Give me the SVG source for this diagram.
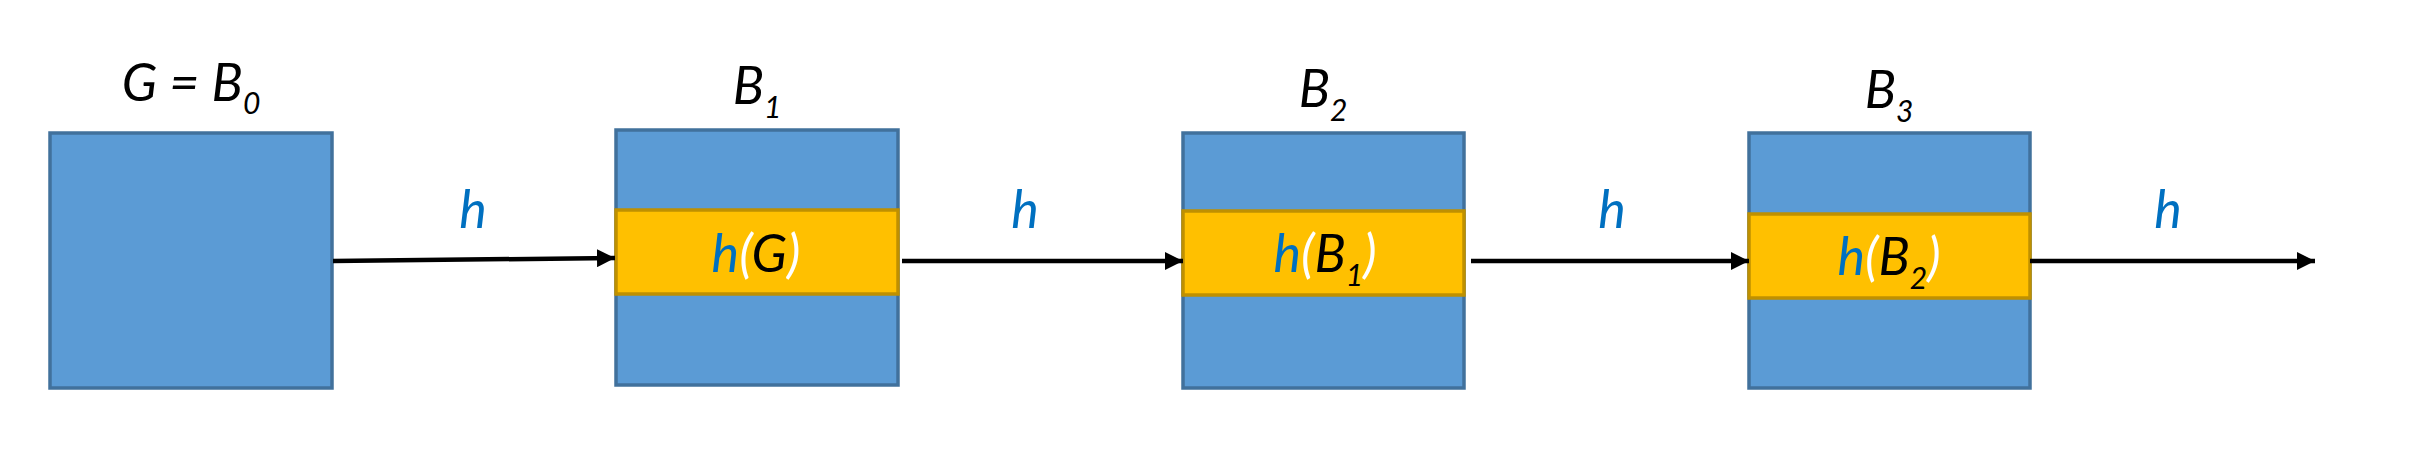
<svg xmlns="http://www.w3.org/2000/svg" width="2413" height="475" viewBox="0 0 2413 475">
<style>
.box{fill:#5B9BD5;stroke:#41719C;stroke-width:3.5}
.band{fill:#FFC000;stroke:#BF9000;stroke-width:3.5}
.t{font-family:Lato,"Noto Sans",sans-serif;font-style:italic;font-size:52px;fill:#000}
.blue{fill:#0070C0}
.white{fill:#FFFFFF}
.sub{font-size:30px}
.conn{stroke:#000;stroke-width:4.5;fill:none;marker-end:url(#ah)}
</style>
<defs>
<marker id="ah" viewBox="0 0 6 6" refX="6" refY="3" markerWidth="4" markerHeight="4" markerUnits="strokeWidth" orient="auto">
<path d="M0,0 L6,3 L0,6 z" fill="#000"/>
</marker>
</defs>
<rect width="2413" height="475" fill="#fff"/>
<g id="B0">
<rect class="box" x="50" y="133" width="282" height="255"/>
<text class="t" x="191" y="101" text-anchor="middle">G = B<tspan class="sub" dy="13">0</tspan></text>
</g>
<g id="B1">
<rect class="box" x="616" y="130" width="282" height="255"/>
<rect class="band" x="616" y="210" width="282" height="84"/>
<text class="t" x="757" y="104" text-anchor="middle">B<tspan class="sub" dy="14">1</tspan></text>
<text class="t" x="756" y="272" text-anchor="middle"><tspan class="blue">h</tspan><tspan class="white">(</tspan>G<tspan class="white">)</tspan></text>
</g>
<g id="B2">
<rect class="box" x="1183" y="133" width="281" height="255"/>
<rect class="band" x="1183" y="211" width="281" height="84"/>
<text class="t" x="1323" y="107" text-anchor="middle">B<tspan class="sub" dy="14">2</tspan></text>
<text class="t" x="1325" y="272" text-anchor="middle"><tspan class="blue">h</tspan><tspan class="white">(</tspan>B<tspan class="sub" dy="14">1</tspan><tspan class="white" dy="-14">)</tspan></text>
</g>
<g id="B3">
<rect class="box" x="1749" y="133" width="281" height="255"/>
<rect class="band" x="1749" y="214" width="281" height="84"/>
<text class="t" x="1889" y="108" text-anchor="middle">B<tspan class="sub" dy="14">3</tspan></text>
<text class="t" x="1889" y="275" text-anchor="middle"><tspan class="blue">h</tspan><tspan class="white">(</tspan>B<tspan class="sub" dy="14">2</tspan><tspan class="white" dy="-14">)</tspan></text>
</g>
<g id="connectors">
<line class="conn" x1="333" y1="261" x2="615" y2="258"/>
<line class="conn" x1="902" y1="261" x2="1183" y2="261"/>
<line class="conn" x1="1471" y1="261" x2="1749" y2="261"/>
<line class="conn" x1="2030" y1="261" x2="2315" y2="261"/>
<text class="t blue" x="473" y="228" text-anchor="middle">h</text>
<text class="t blue" x="1025" y="228" text-anchor="middle">h</text>
<text class="t blue" x="1612" y="228" text-anchor="middle">h</text>
<text class="t blue" x="2168" y="228" text-anchor="middle">h</text>
</g>
</svg>
